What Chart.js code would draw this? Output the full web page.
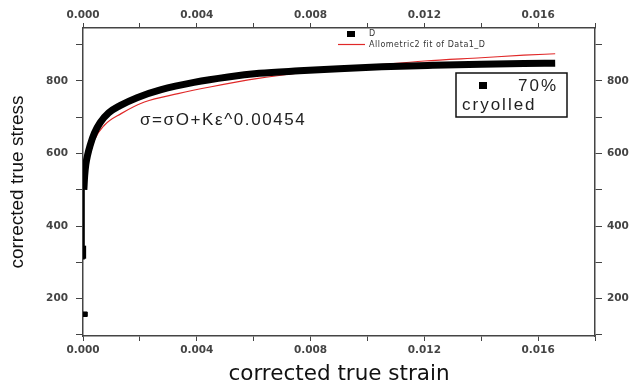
<!DOCTYPE html>
<html>
<head>
<meta charset="utf-8">
<script src="https://cdn.jsdelivr.net/npm/chart.js@4.4.1/dist/chart.umd.min.js"></script>
<style>
  html, body { margin: 0; padding: 0; background: #fff; }
  #wrap { width: 631px; height: 387px; }
</style>
</head>
<body>
<div id="wrap"><canvas id="stressChart" width="631" height="387"></canvas></div>
<script>
// measured data (series "D", 70% cryorolled)
const strainD = [0.00003, 0.00006, 0.0001, 0.00016, 0.00025, 0.0004, 0.0006, 0.0009, 0.0013, 0.0019,
  0.00275, 0.0039, 0.0051, 0.0062, 0.0076, 0.009, 0.0105, 0.0123, 0.014, 0.0155, 0.0166];
const stressD = [500, 540, 570, 595, 622, 656, 685, 712, 732, 754,
  776, 796, 811, 821, 828, 834, 839, 843, 846, 848, 849];

// first points near zero strain
const strainLow = [0.00002, 0.00002];
const stressLow = [308, 520];
const strainStub = [0.00004, 0.00004];
const stressStub = [310, 346];
const strainOut = [0.00007];
const stressOut = [157];

// Allometric2 fit
const strainFit = [0.00014, 0.0004, 0.00075, 0.00134, 0.00216, 0.00334, 0.00451, 0.00616, 0.0076,
  0.009, 0.0105, 0.012, 0.014, 0.0155, 0.0166];
const stressFit = [568, 637, 678, 710, 742, 765, 784, 807, 822, 834, 845, 855, 864, 871, 875];

const xTickLabels = ["0.000", "0.004", "0.008", "0.012", "0.016"];
const yTickLabels = ["200", "400", "600", "800"];

const toPoints = (xs, ys) => xs.map((x, i) => ({ x: x, y: ys[i] }));

const tickFont = { family: "DejaVu Sans", size: 10.5, weight: "bold" };
const axisColor = "#444";

function xLabel(value) {
  const s = value.toFixed(3);
  return xTickLabels.includes(s) ? s : "";
}
function yLabel(value) {
  const s = String(Math.round(value));
  return yTickLabels.includes(s) ? s : "";
}

const xCommon = {
  type: "linear",
  min: 0,
  max: 0.018,
  ticks: { stepSize: 0.002, callback: xLabel, color: axisColor, font: tickFont, maxRotation: 0, autoSkip: false },
  grid: { display: true, drawOnChartArea: false, drawTicks: true, tickLength: 5, color: axisColor },
  border: { display: true, color: axisColor, width: 1.5 },
};
const yCommon = {
  type: "linear",
  min: 97,
  max: 946,
  ticks: { stepSize: 100, includeBounds: false, callback: yLabel, color: axisColor, font: tickFont, autoSkip: false },
  grid: { display: true, drawOnChartArea: false, drawTicks: true, tickLength: 7, color: axisColor },
  border: { display: true, color: axisColor, width: 1.5 },
};

// legend + annotation text drawn on top
const notesPlugin = {
  id: "notes",
  afterDraw(chart) {
    const ctx = chart.ctx;
    ctx.save();
    // small legend at top
    ctx.fillStyle = "#000";
    ctx.fillRect(347, 31, 8, 6);
    ctx.font = "8px 'DejaVu Sans'";
    ctx.fillStyle = "#333";
    ctx.textBaseline = "middle";
    ctx.letterSpacing = "0.5px";
    ctx.fillText("D", 369, 34);
    ctx.strokeStyle = "#e02828";
    ctx.lineWidth = 1.2;
    ctx.beginPath();
    ctx.moveTo(338, 44.5);
    ctx.lineTo(365, 44.5);
    ctx.stroke();
    ctx.fillText("Allometric2 fit of Data1_D", 369, 44.5);

    // equation
    ctx.font = "17px 'Liberation Sans'";
    ctx.fillStyle = "#222";
    ctx.letterSpacing = "1.6px";
    ctx.textBaseline = "alphabetic";
    ctx.fillText("σ=σO+Kε^0.00454", 140, 125);

    // sample box
    ctx.fillStyle = "#fff";
    ctx.fillRect(456, 73, 111, 44);
    ctx.strokeStyle = "#111";
    ctx.lineWidth = 1.5;
    ctx.strokeRect(456, 73, 111, 44);
    ctx.fillStyle = "#000";
    ctx.fillRect(479, 82, 8, 7);
    ctx.font = "17px 'Liberation Sans'";
    ctx.fillStyle = "#222";
    ctx.letterSpacing = "2px";
    ctx.fillText("70%", 518, 91);
    ctx.fillText("cryolled", 462, 110);
    ctx.restore();
  },
};

new Chart(document.getElementById("stressChart").getContext("2d"), {
  type: "scatter",
  data: {
    datasets: [
      {
        label: "D",
        data: toPoints(strainD, stressD),
        showLine: true,
        borderColor: "#000",
        backgroundColor: "#000",
        borderWidth: 7,
        pointRadius: 0,
        cubicInterpolationMode: "monotone",
      },
      {
        label: "D low",
        data: toPoints(strainLow, stressLow),
        showLine: true,
        borderColor: "#000",
        borderWidth: 2.5,
        pointRadius: 0,
      },
      {
        label: "D stub",
        data: toPoints(strainStub, stressStub),
        showLine: true,
        borderColor: "#000",
        borderWidth: 4,
        pointRadius: 0,
      },
      {
        label: "D first",
        data: toPoints(strainOut, stressOut),
        showLine: false,
        pointStyle: "rect",
        pointRadius: 3.2,
        backgroundColor: "#000",
        borderColor: "#000",
      },
      {
        label: "Allometric2 fit of Data1_D",
        data: toPoints(strainFit, stressFit),
        showLine: true,
        borderColor: "#e02828",
        borderWidth: 1.2,
        pointRadius: 0,
        cubicInterpolationMode: "monotone",
      },
    ],
  },
  options: {
    responsive: false,
    animation: false,
    layout: { padding: 0 },
    plugins: {
      legend: { display: false },
      tooltip: { enabled: false },
    },
    scales: {
      x: {
        ...xCommon,
        position: "bottom",
        ticks: { ...xCommon.ticks, padding: 3 },
        title: {
          display: true,
          text: "corrected true strain",
          color: "#111",
          font: { family: "DejaVu Sans", size: 21.5, lineHeight: 1 },
          padding: { top: 0, bottom: 2 },
        },
        afterFit(scale) { scale.height = 51; },
      },
      x2: {
        ...xCommon,
        position: "top",
        ticks: { ...xCommon.ticks, padding: 1 },
        afterFit(scale) { scale.height = 28; },
      },
      y: {
        ...yCommon,
        position: "left",
        ticks: { ...yCommon.ticks, padding: 8 },
        title: {
          display: true,
          text: "corrected true stress",
          color: "#111",
          font: { family: "Liberation Sans", size: 19, lineHeight: 1.2 },
          padding: { top: 6, bottom: 0 },
        },
        afterFit(scale) { scale.width = 83; },
      },
      y2: {
        ...yCommon,
        position: "right",
        ticks: { ...yCommon.ticks, padding: 5 },
        afterFit(scale) { scale.width = 36; },
      },
    },
  },
  plugins: [notesPlugin],
});
</script>
</body>
</html>
